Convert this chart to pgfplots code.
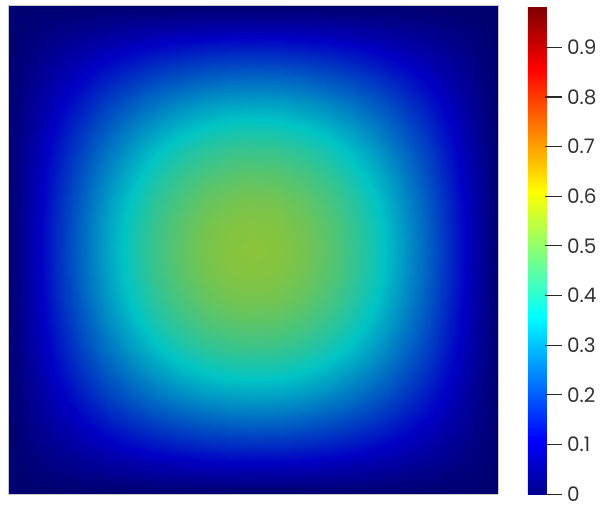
\documentclass[border=0pt]{standalone}
\usepackage{pgfplots}
\pgfplotsset{compat=1.18}
\usepackage{fontspec}
\setmainfont{Poppins}

% Jet colour table (bar) and the same table as it appears on the lit surface
\pgfplotsset{
  colormap={pvjet}{rgb(0pt)=(0,0,0.5625); rgb(111pt)=(0,0,1); rgb(365pt)=(0,1,1); rgb(492pt)=(0.5,1,0.5); rgb(619pt)=(1,1,0); rgb(873pt)=(1,0,0); rgb(1000pt)=(0.5,0,0)},
  colormap={pvjetlit}{rgb(0pt)=(0,0,0.433); rgb(111pt)=(0,0,0.77); rgb(365pt)=(0,0.77,0.77); rgb(492pt)=(0.385,0.77,0.385); rgb(619pt)=(0.77,0.77,0); rgb(873pt)=(0.77,0,0); rgb(1000pt)=(0.385,0,0)},
}

\begin{document}
\begin{tikzpicture}
\path[use as bounding box] (-6.375pt,-7.125pt) rectangle (446.625pt,370.875pt);
\begin{axis}[
  at={(0pt,0pt)}, anchor=south west,
  scale only axis, width=367.1pt, height=366.75pt,
  view={0}{90},
  xmin=0, xmax=20, ymin=0, ymax=20,
  enlargelimits=false,
  ticks=none,
  axis line style={draw=black!22, line width=0.5pt},
  axis on top,
  colormap name=pvjetlit,
  point meta min=0, point meta max=0.982,
  colorbar,
  colorbar shift/.style={xshift=0pt},
  colorbar style={
    colormap name=pvjet,
    at={(parent axis.north east)}, anchor=north west,
    xshift=22.5pt, yshift=-0.9pt,
    scale only axis, width=16.5pt, height=365.5pt,
    axis line style={draw=none},
    ytick={0,0.1,0.2,0.3,0.4,0.5,0.6,0.7,0.8,0.9},
    ytick pos=right, yticklabel pos=right,
    tick align=outside,
    major tick length=12.75pt,
    ytick style={draw=black!85, line width=0.8pt, xshift=-3.75pt},
    yticklabel style={font=\fontsize{15}{18}\selectfont, text=black!80, xshift=-3.4pt},
    /pgf/number format/assume math mode=true,
  },
]
\addplot3[surf, shader=interp, mesh/cols=21] coordinates {
(0,0,0) (1,0,0) (2,0,0) (3,0,0) (4,0,0) (5,0,0) (6,0,0) (7,0,0) (8,0,0) (9,0,0) (10,0,0) (11,0,0) (12,0,0) (13,0,0) (14,0,0) (15,0,0) (16,0,0) (17,0,0) (18,0,0) (19,0,0) (20,0,0)
(0,1,0) (1,1,0.013) (2,1,0.026) (3,1,0.038) (4,1,0.049) (5,1,0.059) (6,1,0.068) (7,1,0.075) (8,1,0.080) (9,1,0.083) (10,1,0.084) (11,1,0.083) (12,1,0.080) (13,1,0.075) (14,1,0.068) (15,1,0.059) (16,1,0.049) (17,1,0.038) (18,1,0.026) (19,1,0.013) (20,1,0)
(0,2,0) (1,2,0.026) (2,2,0.051) (3,2,0.075) (4,2,0.097) (5,2,0.117) (6,2,0.134) (7,2,0.147) (8,2,0.157) (9,2,0.163) (10,2,0.165) (11,2,0.163) (12,2,0.157) (13,2,0.147) (14,2,0.134) (15,2,0.117) (16,2,0.097) (17,2,0.075) (18,2,0.051) (19,2,0.026) (20,2,0)
(0,3,0) (1,3,0.038) (2,3,0.075) (3,3,0.110) (4,3,0.143) (5,3,0.172) (6,3,0.197) (7,3,0.216) (8,3,0.231) (9,3,0.240) (10,3,0.243) (11,3,0.240) (12,3,0.231) (13,3,0.216) (14,3,0.197) (15,3,0.172) (16,3,0.143) (17,3,0.110) (18,3,0.075) (19,3,0.038) (20,3,0)
(0,4,0) (1,4,0.049) (2,4,0.097) (3,4,0.143) (4,4,0.185) (5,4,0.222) (6,4,0.254) (7,4,0.280) (8,4,0.299) (9,4,0.311) (10,4,0.314) (11,4,0.311) (12,4,0.299) (13,4,0.280) (14,4,0.254) (15,4,0.222) (16,4,0.185) (17,4,0.143) (18,4,0.097) (19,4,0.049) (20,4,0)
(0,5,0) (1,5,0.059) (2,5,0.117) (3,5,0.172) (4,5,0.222) (5,5,0.268) (6,5,0.306) (7,5,0.337) (8,5,0.360) (9,5,0.374) (10,5,0.378) (11,5,0.374) (12,5,0.360) (13,5,0.337) (14,5,0.306) (15,5,0.268) (16,5,0.222) (17,5,0.172) (18,5,0.117) (19,5,0.059) (20,5,0)
(0,6,0) (1,6,0.068) (2,6,0.134) (3,6,0.197) (4,6,0.254) (5,6,0.306) (6,6,0.350) (7,6,0.386) (8,6,0.412) (9,6,0.428) (10,6,0.433) (11,6,0.428) (12,6,0.412) (13,6,0.386) (14,6,0.350) (15,6,0.306) (16,6,0.254) (17,6,0.197) (18,6,0.134) (19,6,0.068) (20,6,0)
(0,7,0) (1,7,0.075) (2,7,0.147) (3,7,0.216) (4,7,0.280) (5,7,0.337) (6,7,0.386) (7,7,0.425) (8,7,0.453) (9,7,0.471) (10,7,0.477) (11,7,0.471) (12,7,0.453) (13,7,0.425) (14,7,0.386) (15,7,0.337) (16,7,0.280) (17,7,0.216) (18,7,0.147) (19,7,0.075) (20,7,0)
(0,8,0) (1,8,0.080) (2,8,0.157) (3,8,0.231) (4,8,0.299) (5,8,0.360) (6,8,0.412) (7,8,0.453) (8,8,0.484) (9,8,0.503) (10,8,0.509) (11,8,0.503) (12,8,0.484) (13,8,0.453) (14,8,0.412) (15,8,0.360) (16,8,0.299) (17,8,0.231) (18,8,0.157) (19,8,0.080) (20,8,0)
(0,9,0) (1,9,0.083) (2,9,0.163) (3,9,0.240) (4,9,0.311) (5,9,0.374) (6,9,0.428) (7,9,0.471) (8,9,0.503) (9,9,0.522) (10,9,0.528) (11,9,0.522) (12,9,0.503) (13,9,0.471) (14,9,0.428) (15,9,0.374) (16,9,0.311) (17,9,0.240) (18,9,0.163) (19,9,0.083) (20,9,0)
(0,10,0) (1,10,0.084) (2,10,0.165) (3,10,0.243) (4,10,0.314) (5,10,0.378) (6,10,0.433) (7,10,0.477) (8,10,0.509) (9,10,0.528) (10,10,0.535) (11,10,0.528) (12,10,0.509) (13,10,0.477) (14,10,0.433) (15,10,0.378) (16,10,0.314) (17,10,0.243) (18,10,0.165) (19,10,0.084) (20,10,0)
(0,11,0) (1,11,0.083) (2,11,0.163) (3,11,0.240) (4,11,0.311) (5,11,0.374) (6,11,0.428) (7,11,0.471) (8,11,0.503) (9,11,0.522) (10,11,0.528) (11,11,0.522) (12,11,0.503) (13,11,0.471) (14,11,0.428) (15,11,0.374) (16,11,0.311) (17,11,0.240) (18,11,0.163) (19,11,0.083) (20,11,0)
(0,12,0) (1,12,0.080) (2,12,0.157) (3,12,0.231) (4,12,0.299) (5,12,0.360) (6,12,0.412) (7,12,0.453) (8,12,0.484) (9,12,0.503) (10,12,0.509) (11,12,0.503) (12,12,0.484) (13,12,0.453) (14,12,0.412) (15,12,0.360) (16,12,0.299) (17,12,0.231) (18,12,0.157) (19,12,0.080) (20,12,0)
(0,13,0) (1,13,0.075) (2,13,0.147) (3,13,0.216) (4,13,0.280) (5,13,0.337) (6,13,0.386) (7,13,0.425) (8,13,0.453) (9,13,0.471) (10,13,0.477) (11,13,0.471) (12,13,0.453) (13,13,0.425) (14,13,0.386) (15,13,0.337) (16,13,0.280) (17,13,0.216) (18,13,0.147) (19,13,0.075) (20,13,0)
(0,14,0) (1,14,0.068) (2,14,0.134) (3,14,0.197) (4,14,0.254) (5,14,0.306) (6,14,0.350) (7,14,0.386) (8,14,0.412) (9,14,0.428) (10,14,0.433) (11,14,0.428) (12,14,0.412) (13,14,0.386) (14,14,0.350) (15,14,0.306) (16,14,0.254) (17,14,0.197) (18,14,0.134) (19,14,0.068) (20,14,0)
(0,15,0) (1,15,0.059) (2,15,0.117) (3,15,0.172) (4,15,0.222) (5,15,0.268) (6,15,0.306) (7,15,0.337) (8,15,0.360) (9,15,0.374) (10,15,0.378) (11,15,0.374) (12,15,0.360) (13,15,0.337) (14,15,0.306) (15,15,0.268) (16,15,0.222) (17,15,0.172) (18,15,0.117) (19,15,0.059) (20,15,0)
(0,16,0) (1,16,0.049) (2,16,0.097) (3,16,0.143) (4,16,0.185) (5,16,0.222) (6,16,0.254) (7,16,0.280) (8,16,0.299) (9,16,0.311) (10,16,0.314) (11,16,0.311) (12,16,0.299) (13,16,0.280) (14,16,0.254) (15,16,0.222) (16,16,0.185) (17,16,0.143) (18,16,0.097) (19,16,0.049) (20,16,0)
(0,17,0) (1,17,0.038) (2,17,0.075) (3,17,0.110) (4,17,0.143) (5,17,0.172) (6,17,0.197) (7,17,0.216) (8,17,0.231) (9,17,0.240) (10,17,0.243) (11,17,0.240) (12,17,0.231) (13,17,0.216) (14,17,0.197) (15,17,0.172) (16,17,0.143) (17,17,0.110) (18,17,0.075) (19,17,0.038) (20,17,0)
(0,18,0) (1,18,0.026) (2,18,0.051) (3,18,0.075) (4,18,0.097) (5,18,0.117) (6,18,0.134) (7,18,0.147) (8,18,0.157) (9,18,0.163) (10,18,0.165) (11,18,0.163) (12,18,0.157) (13,18,0.147) (14,18,0.134) (15,18,0.117) (16,18,0.097) (17,18,0.075) (18,18,0.051) (19,18,0.026) (20,18,0)
(0,19,0) (1,19,0.013) (2,19,0.026) (3,19,0.038) (4,19,0.049) (5,19,0.059) (6,19,0.068) (7,19,0.075) (8,19,0.080) (9,19,0.083) (10,19,0.084) (11,19,0.083) (12,19,0.080) (13,19,0.075) (14,19,0.068) (15,19,0.059) (16,19,0.049) (17,19,0.038) (18,19,0.026) (19,19,0.013) (20,19,0)
(0,20,0) (1,20,0) (2,20,0) (3,20,0) (4,20,0) (5,20,0) (6,20,0) (7,20,0) (8,20,0) (9,20,0) (10,20,0) (11,20,0) (12,20,0) (13,20,0) (14,20,0) (15,20,0) (16,20,0) (17,20,0) (18,20,0) (19,20,0) (20,20,0)
};
\end{axis}
\end{tikzpicture}
\end{document}
